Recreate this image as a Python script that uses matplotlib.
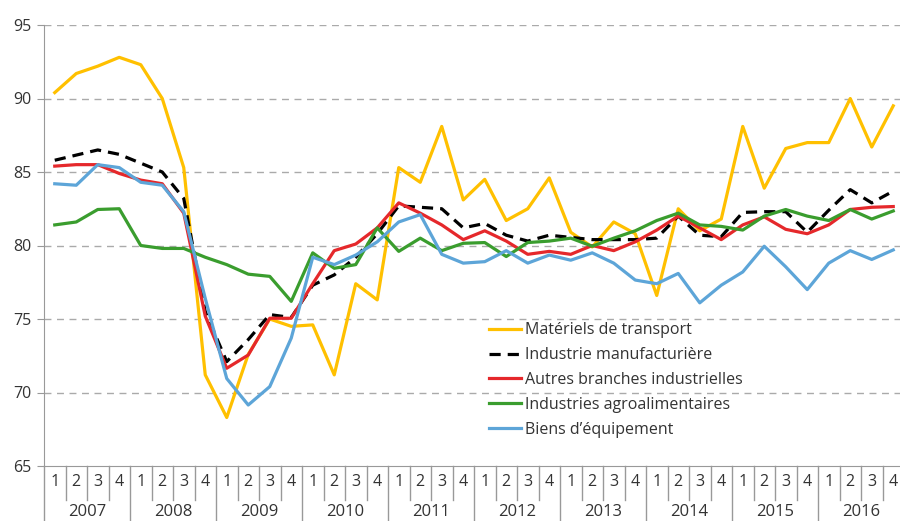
import matplotlib.pyplot as plt
import matplotlib.transforms as mtransforms
import numpy as np

plt.rcParams['font.family'] = ['Open Sans', 'DejaVu Sans']

years = ['2007', '2008', '2009', '2010', '2011', '2012', '2013', '2014', '2015', '2016']
quarters = ['1', '2', '3', '4']

transport = [90.4, 91.7, 92.2, 92.8, 92.3, 90.0, 85.3, 71.2,
             68.3, 72.6, 75.0, 74.5, 74.6, 71.2, 77.4, 76.3,
             85.3, 84.3, 88.1, 83.1, 84.5, 81.7, 82.5, 84.6,
             80.9, 79.9, 81.6, 80.8, 76.6, 82.5, 81.0, 81.8,
             88.1, 83.9, 86.6, 87.0, 87.0, 90.0, 86.7, 89.5]
manuf = [85.8, 86.15, 86.5, 86.2, 85.6, 85.0, 83.2, 75.5,
         72.1, 73.6, 75.3, 75.1, 77.3, 78.0, 79.2, 80.8,
         82.7, 82.6, 82.5, 81.2, 81.5, 80.7, 80.3, 80.7,
         80.55, 80.4, 80.4, 80.4, 80.5, 82.0, 80.7, 80.6,
         82.25, 82.3, 82.3, 80.9, 82.4, 83.8, 82.9, 83.7]
autres = [85.4, 85.5, 85.5, 84.9, 84.45, 84.2, 82.2, 75.2,
          71.65, 72.55, 75.05, 75.05, 77.4, 79.65, 80.1, 81.2,
          82.9, 82.2, 81.4, 80.4, 81.0, 80.3, 79.4, 79.6,
          79.4, 80.0, 79.65, 80.25, 81.05, 82.0, 81.2, 80.4,
          81.4, 81.95, 81.1, 80.8, 81.4, 82.45, 82.6, 82.65]
agro = [81.4, 81.6, 82.45, 82.5, 80.0, 79.8, 79.8, 79.2,
        78.7, 78.05, 77.9, 76.2, 79.5, 78.45, 78.7, 81.2,
        79.6, 80.5, 79.65, 80.15, 80.2, 79.25, 80.2, 80.3,
        80.5, 79.95, 80.5, 81.0, 81.7, 82.2, 81.4, 81.3,
        81.05, 82.0, 82.45, 82.0, 81.7, 82.45, 81.8, 82.35]
equip = [84.2, 84.1, 85.5, 85.3, 84.3, 84.1, 82.3, 76.4,
         70.95, 69.15, 70.4, 73.7, 79.2, 78.7, 79.35, 80.25,
         81.6, 82.1, 79.4, 78.8, 78.9, 79.65, 78.8, 79.35,
         79.0, 79.5, 78.8, 77.65, 77.4, 78.1, 76.1, 77.3,
         78.2, 79.95, 78.55, 77.0, 78.8, 79.65, 79.05, 79.7]

x = np.arange(len(years) * 4)

fig = plt.figure(figsize=(9, 5.21), dpi=100)
ax = fig.add_axes([44 / 900, 55 / 521, 860 / 900, 441 / 521])

ax.plot(x, transport, color='#FFC000', lw=2.3, label='Matériels de transport')
ax.plot(x, manuf, color='black', lw=2.3, ls=(0, (3.5, 2.2)), label='Industrie manufacturière')
ax.plot(x, autres, color='#E5282B', lw=2.3, label='Autres branches industrielles')
ax.plot(x, agro, color='#3A9D2E', lw=2.3, label='Industries agroalimentaires')
ax.plot(x, equip, color='#5DA5D8', lw=2.3, label='Biens d\u2019équipement')

ax.set_xlim(-0.5, len(x) - 0.5)
ax.set_ylim(65, 95)
ax.set_yticks(range(65, 96, 5))
for v in range(70, 96, 5):
    ax.axhline(v, color='#aaaaaa', lw=1, ls=(0, (5, 4)), zorder=0)

for s in ['top', 'right']:
    ax.spines[s].set_visible(False)
ax.spines['left'].set_color('#999999')
ax.spines['bottom'].set_color('#999999')
ax.tick_params(axis='y', colors='#999999', labelcolor='#333333', labelsize=11.5, length=5, pad=4)
ax.tick_params(axis='x', bottom=False, labelbottom=False)

# two-level x axis: quarters then years
trans = mtransforms.blended_transform_factory(ax.transData, ax.transAxes)
for k in range(len(x)):
    ax.text(k, -0.037, quarters[k % 4], transform=trans, ha='center', va='center',
            fontsize=11.5, color='#333333')
    edge = k - 0.5
    low = -0.2 if k % 4 == 0 else -0.077
    ax.plot([edge, edge], [0, low], transform=trans, color='#999999', lw=1, clip_on=False)
for j, yr in enumerate(years):
    ax.text(j * 4 + 1.5, -0.104, yr, transform=trans, ha='center', va='center',
            fontsize=12, color='#333333')

leg = ax.legend(loc='upper left', bbox_to_anchor=(483 / 900, 1 - 316 / 521),
                bbox_transform=fig.transFigure, frameon=False, fontsize=11.5,
                handlelength=2.0, handletextpad=0.25, labelspacing=0.55,
                borderaxespad=0)
for t in leg.get_texts():
    t.set_color('#333333')

fig.savefig('out.png', dpi=100)
